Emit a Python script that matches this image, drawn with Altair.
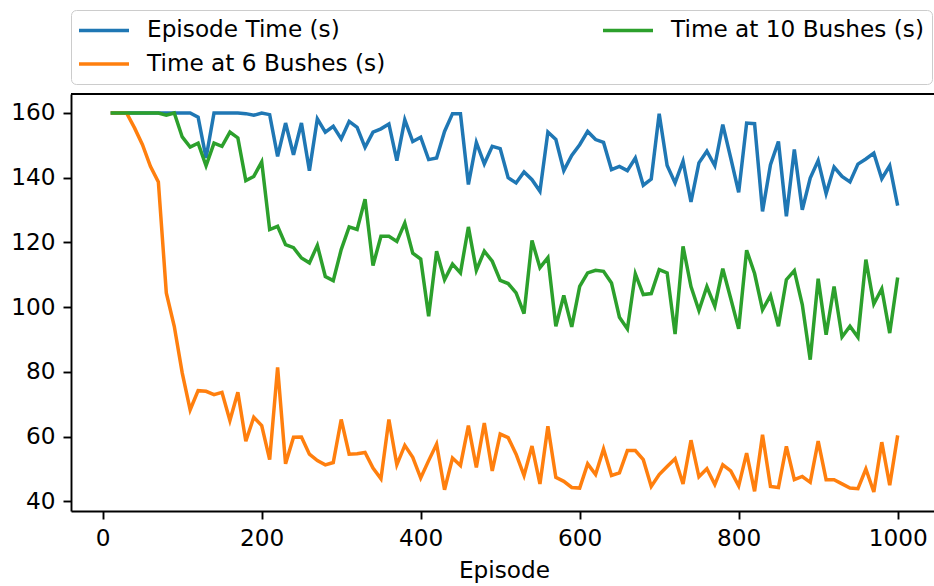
import altair as alt
import pandas as pd

# ---------------- data ----------------
episodes = list(range(10, 1001, 10))

episode_time = [
    160, 160, 160, 160, 160, 160, 160, 160, 160, 160,
    160, 158.7, 146.1, 160, 160, 160, 160, 159.8, 159.3, 160,
    159.5, 146.6, 156.9, 147.1, 156.9, 142.2, 158.2, 154.1, 155.9, 152.0,
    157.4, 155.6, 149.4, 154.1, 155.1, 156.6, 145.3, 157.9, 151.2, 152.5,
    145.6, 146.1, 154.3, 159.8, 159.8, 137.9, 150.9, 144.3, 149.7, 149.0,
    140.0, 138.4, 141.8, 139.4, 135.8, 154.1, 151.8, 142.2, 146.9, 150.2,
    154.3, 151.8, 150.9, 142.5, 143.5, 142.2, 146.1, 137.7, 139.6, 159.8,
    143.8, 138.4, 145.1, 132.5, 144.6, 148.2, 143.7, 156.4, 146.1, 135.5,
    156.9, 156.7, 129.6, 144.0, 151.2, 128.1, 148.7, 130.1, 139.9, 145.3,
    135.1, 143.3, 140.4, 138.7, 144.2, 145.8, 147.6, 139.7, 143.7, 131.4,
]

time_6_bushes = [
    160, 160, 160, 155.4, 150.2, 143.5, 138.7, 104.4, 94.1, 79.7,
    68.3, 74.2, 74.0, 73.0, 73.7, 65.0, 73.7, 58.6, 66.0, 63.4,
    52.9, 81.4, 51.6, 59.8, 59.9, 54.6, 52.6, 51.3, 52.0, 65.3,
    54.6, 54.7, 55.1, 50.3, 47.0, 65.3, 51.3, 57.3, 53.6, 47.2,
    52.6, 57.7, 43.6, 53.4, 51.1, 63.4, 50.5, 64.2, 49.4, 60.8,
    59.7, 54.6, 48.0, 57.1, 45.4, 63.2, 47.4, 46.2, 44.3, 44.1,
    51.6, 48.3, 56.2, 48.0, 48.8, 55.7, 55.7, 52.9, 44.6, 48.3,
    50.8, 53.2, 45.4, 58.9, 47.6, 50.1, 45.2, 51.3, 49.4, 44.8,
    54.9, 43.1, 60.6, 44.6, 44.3, 57.0, 46.7, 47.7, 45.9, 58.6,
    46.7, 46.7, 45.4, 44.1, 43.9, 50.0, 42.9, 58.3, 45.0, 60.4,
]

time_10_bushes = [
    160, 160, 160, 160, 160, 160, 160, 159.3, 160, 152.6,
    149.5, 150.7, 143.7, 150.7, 149.7, 154.1, 152.3, 139.1, 140.4, 144.9,
    124.0, 125.0, 119.3, 118.4, 115.2, 113.7, 119.1, 109.5, 108.2, 117.8,
    124.8, 124.0, 133.4, 112.9, 121.9, 121.9, 120.3, 126.0, 116.7, 114.9,
    97.2, 117.3, 108.5, 113.3, 110.6, 124.8, 111.4, 117.3, 114.2, 108.3,
    107.3, 104.4, 98.0, 120.6, 112.2, 115.3, 94.1, 103.6, 93.9, 106.4,
    110.6, 111.4, 111.1, 107.5, 96.9, 93.3, 110.3, 103.9, 104.2, 111.6,
    110.6, 91.7, 118.8, 106.4, 99.0, 106.4, 100.3, 111.9, 102.7, 93.3,
    117.6, 110.4, 99.2, 103.6, 94.1, 108.5, 111.3, 100.8, 83.8, 108.8,
    91.5, 106.4, 90.8, 94.1, 90.7, 114.7, 101.0, 105.7, 92.0, 109.2,
]

series_names = ["Episode Time (s)", "Time at 6 Bushes (s)", "Time at 10 Bushes (s)"]
series_colors = ["#1f77b4", "#ff7f0e", "#2ca02c"]
x_ticks = [0, 200, 400, 600, 800, 1000]
y_ticks = [40, 60, 80, 100, 120, 140, 160]

# ---------------- long table ----------------
rows = []
for name, values in zip(series_names, [episode_time, time_6_bushes, time_10_bushes]):
    for e, v in zip(episodes, values):
        rows.append({"Episode": e, "value": v, "series": name})
df = pd.DataFrame(rows)

color_scale = alt.Scale(domain=series_names, range=series_colors)

FONT = "DejaVu Sans"
FS = 23.2
W, H = 863, 417

lines = alt.Chart(df).mark_line(strokeWidth=3.5, clip=True).encode(
    x=alt.X(
        "Episode:Q",
        scale=alt.Scale(domain=[-39.9, 1045.7], nice=False, zero=False),
        axis=alt.Axis(
            values=x_ticks, format="d", title="Episode", labelBaseline="alphabetic",
            labelPadding=26.4, titleX=433, titleY=66, titleBaseline="alphabetic",
        ),
    ),
    y=alt.Y(
        "value:Q",
        scale=alt.Scale(domain=[37.03, 165.87], nice=False, zero=False),
        axis=alt.Axis(values=y_ticks, title=None, labelPadding=8),
    ),
    color=alt.Color(
        "series:N",
        scale=color_scale,
        legend=alt.Legend(
            title=None, orient="none", legendX=0, legendY=-84,
            columns=2, columnPadding=210, rowPadding=10,
            symbolType="M-1.2,0H3.8", symbolSize=400, symbolStrokeWidth=3.5,
            labelFont=FONT, labelFontSize=FS, labelColor="black",
            labelOffset=44, labelLimit=600, padding=8,
            strokeColor="#cccccc", fillColor="rgba(255,255,255,0.8)",
            cornerRadius=5,
        ),
    ),
)

top_spine = alt.Chart(pd.DataFrame({"s": [0]})).mark_rule(
    color="black", strokeWidth=1.9
).encode(x=alt.value(0), x2=alt.value(W), y=alt.value(0))

chart = (
    alt.layer(lines, top_spine)
    .properties(
        width=W, height=H,
        padding={"left": 71, "top": 94, "right": 0, "bottom": 75},
        autosize=alt.AutoSizeParams(type="none"),
        background="white",
    )
    .configure_view(stroke=None)
    .configure_axis(
        grid=False, domainColor="black", domainWidth=1.9,
        tickColor="black", tickWidth=1.9, tickSize=8,
        labelFont=FONT, labelFontSize=FS, labelColor="black",
        titleFont=FONT, titleFontSize=FS, titleFontWeight="normal", titleColor="black",
    )
)

chart.save("out.html", embed_options={"renderer": "svg", "actions": False})
